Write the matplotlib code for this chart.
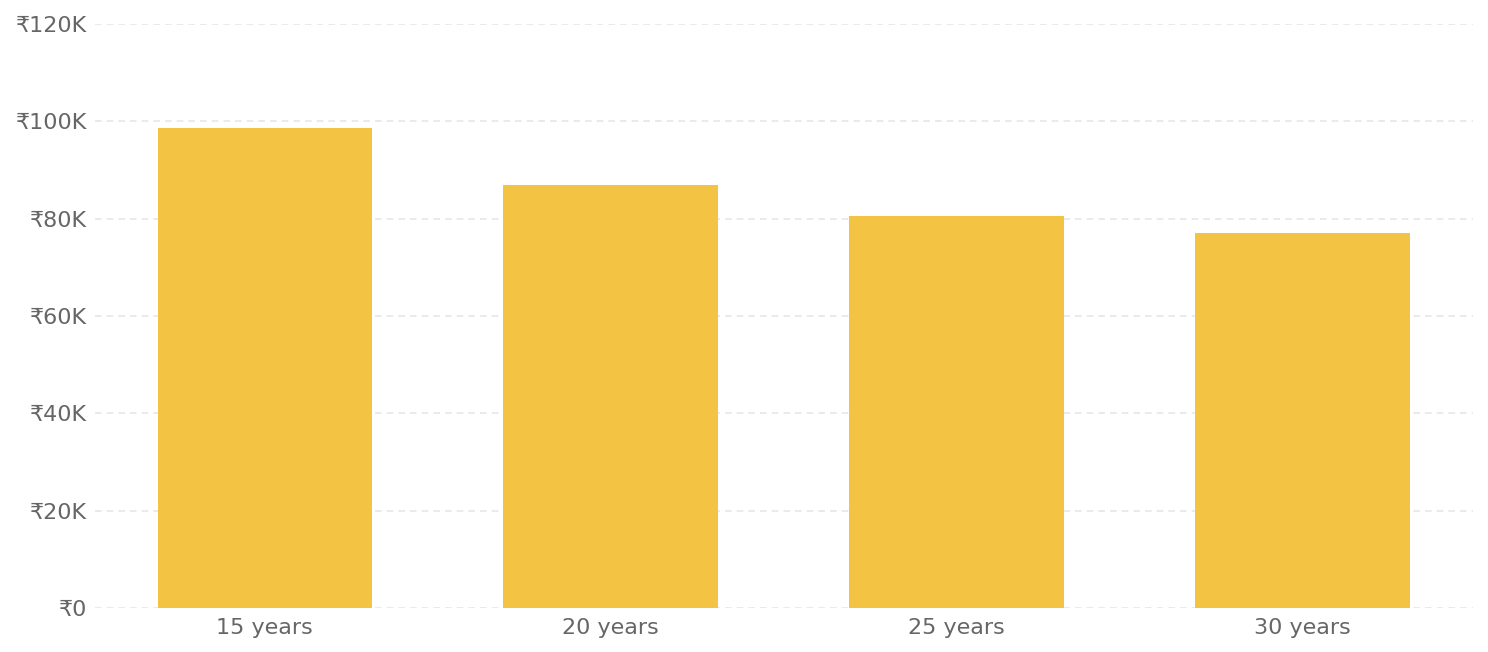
import matplotlib.pyplot as plt
import numpy as np

terms = ['15 years', '20 years', '25 years', '30 years']
amounts = [98600, 86900, 80500, 77000]
yticks = [0, 20000, 40000, 60000, 80000, 100000, 120000]
ytick_labels = ['₹0', '₹20K', '₹40K', '₹60K', '₹80K', '₹100K', '₹120K']

fig = plt.figure(figsize=(14.88, 6.52), dpi=100)
ax = fig.add_axes([0.0638, 0.0675, 0.926, 0.8958])

x = np.arange(len(terms))
ax.bar(x, amounts, width=0.62, color='#F3C343', zorder=3)

ax.set_xlim(-0.491, 3.492)
ax.set_ylim(0, 120000)
ax.set_xticks(x)
ax.set_xticklabels(terms)
ax.set_yticks(yticks)
ax.set_yticklabels(ytick_labels)
ax.tick_params(axis='both', length=0, labelsize=16, labelcolor='#666666')
ax.tick_params(axis='x', pad=7)
ax.tick_params(axis='y', pad=5.5)
for s in ax.spines.values():
    s.set_visible(False)
ax.grid(True, axis='y', color='#E6E6E6', linestyle=(0, (4, 3)), linewidth=1.2, zorder=0)

fig.savefig('out.png', dpi=100)
